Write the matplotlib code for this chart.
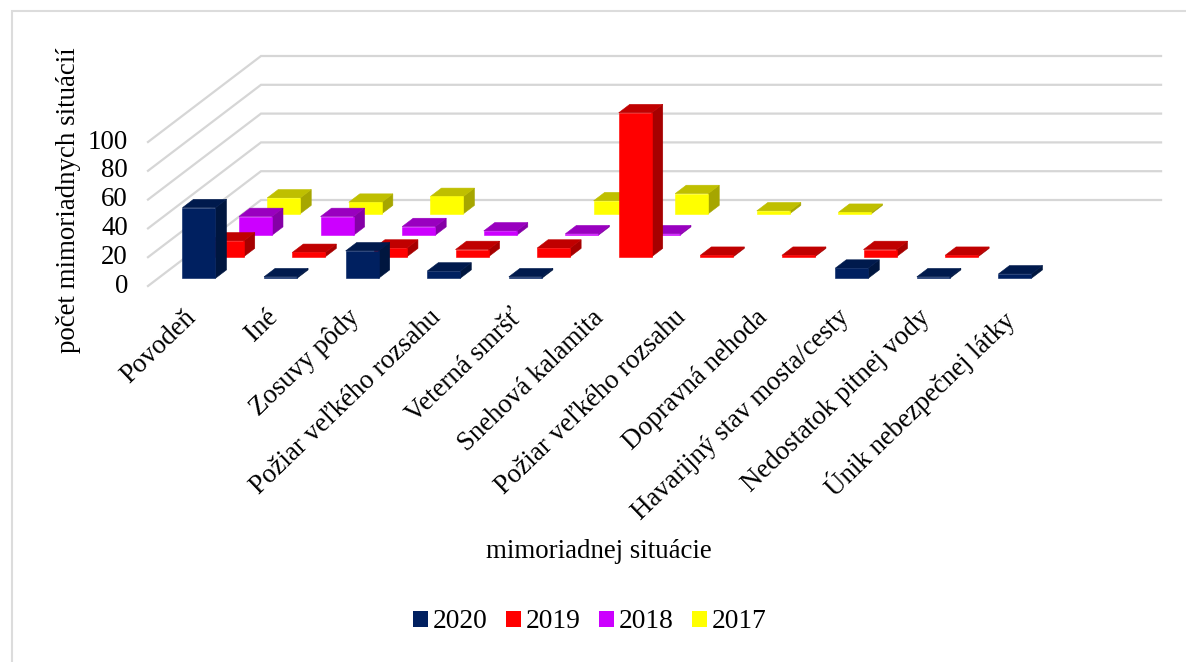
import matplotlib
matplotlib.use('AGG')
import matplotlib.pyplot as plt
from matplotlib.lines import Line2D
from matplotlib.patches import Patch, Polygon

plt.rcParams['font.family'] = ['Liberation Serif', 'DejaVu Sans']

categories = ['Povodeň', 'Iné', 'Zosuvy pôdy', 'Požiar veľkého rozsahu', 'Veterná smršť',
              'Snehová kalamita', 'Požiar veľkého rozsahu', 'Dopravná nehoda',
              'Havarijný stav mosta/cesty', 'Nedostatok pitnej vody', 'Únik nebezpečnej látky']
years = ['2020', '2019', '2018', '2017']
v2020 = [49, 1, 19, 5, 1, 0, 0, 0, 7, 1, 3]
v2019 = [11, 3, 6, 5, 6, 100, 1, 1, 5, 1, 0]
v2018 = [13, 13, 6, 3, 1, 1, 0, 0, 0, 0, 0]
v2017 = [11, 8, 12, 0, 9, 14, 2, 1, 0, 0, 0]
values = [v2020, v2019, v2018, v2017]
y_ticks = [0, 20, 40, 60, 80, 100]

# front, top and side colour of each series
front = ['#002060', '#ff0000', '#cc00ff', '#ffff00']
top = ['#001a4d', '#c00000', '#9900bf', '#bfbf00']
side = ['#00163f', '#a60000', '#8500a6', '#a6a600']

W, H = 1186, 662
px_cat = 81.6    # pixels for one category
px_val = 1.44    # pixels for one value unit
x0, y0 = 148, 286  # front corner of the floor
depth_x = 28.25 / px_cat   # one series slot going back
depth_y = 21.5 / px_val
bar_w = 33 / px_cat
bar_gap = (1 - bar_w) / 2
bar_d0 = 0.36
bar_d = 0.39


def project(cat, val, depth):
    return cat + depth * depth_x, val + depth * depth_y


fig = plt.figure(figsize=(W / 100, H / 100), dpi=100)
ax = fig.add_axes([0, 0, 1, 1])
ax.set_xlim(-x0 / px_cat, (W - x0) / px_cat)
ax.set_ylim(-(H - y0) / px_val, y0 / px_val)
ax.axis('off')

# frame only shows on the top and left
fig.add_artist(Line2D([12 / W, 12 / W, 1], [0, 1 - 11 / H, 1 - 11 / H], color='#dcdcdc', linewidth=1.5,
                      solid_joinstyle='miter'))

n = len(categories)
nd = len(years)

# gridlines on side wall and back wall
for t in y_ticks:
    a = project(0, t, 0)
    b = project(0, t, nd)
    c = project(n + 0.03, t, nd)
    ax.plot([a[0], b[0], c[0]], [a[1], b[1], c[1]], color='#d6d6d6', linewidth=1.6, zorder=1,
            solid_joinstyle='miter')
    ax.annotate(str(t), xy=a, xytext=(-20, 0), textcoords='offset pixels', ha='right', va='center',
                fontsize=19.4)

# back series first so the front ones cover them
z = 2
for s in range(nd - 1, -1, -1):
    for i in range(n):
        v = values[s][i]
        if v == 0:
            continue
        l, r = i + bar_gap, i + bar_gap + bar_w
        d1, d2 = s + bar_d0, s + bar_d0 + bar_d
        quad_front = [project(l, 0, d1), project(r, 0, d1), project(r, v, d1), project(l, v, d1)]
        quad_top = [project(l, v, d1), project(r, v, d1), project(r, v, d2), project(l, v, d2)]
        quad_side = [project(r, 0, d1), project(r, 0, d2), project(r, v, d2), project(r, v, d1)]
        for quad, col in zip([quad_side, quad_top, quad_front], [side[s], top[s], front[s]]):
            ax.add_patch(Polygon(quad, closed=True, facecolor=col, edgecolor=col, linewidth=0.4, zorder=z))
        z += 1

for i, name in enumerate(categories):
    ax.annotate(name, xy=(i + 0.5, 0), xytext=(-5, -19), textcoords='offset pixels', rotation=44,
                ha='right', va='top', rotation_mode='anchor', fontsize=19.4)

ax.text((599 - x0) / px_cat, (y0 - 551) / px_val, 'mimoriadnej situácie', ha='center', va='center', fontsize=19.4)
ax.text((68 - x0) / px_cat, (y0 - 200) / px_val, 'počet mimoriadnych situácií', ha='center', va='center',
        rotation=90, fontsize=19.4)

handles = [Patch(facecolor=c, edgecolor='none', label=y) for c, y in zip(front, years)]
fig.legend(handles=handles, ncol=4, frameon=False, loc='center', bbox_to_anchor=(590 / W, 1 - 622 / H),
           fontsize=19.8, handlelength=0.52, handleheight=0.52, handletextpad=0.19, columnspacing=0.68,
           borderpad=0, borderaxespad=0)

plt.savefig('out.png', dpi=100)
